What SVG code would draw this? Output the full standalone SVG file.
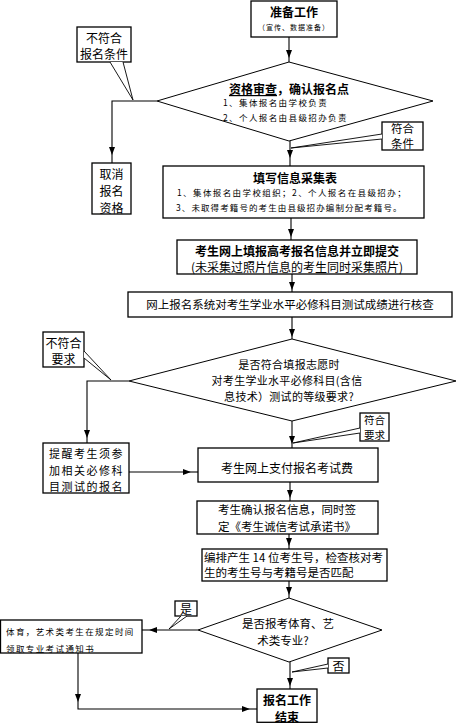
<svg xmlns="http://www.w3.org/2000/svg" width="475" height="723" viewBox="0 0 475 723">
<defs>
<marker id="ah" viewBox="0 0 8 6" markerWidth="8" markerHeight="6" refX="8" refY="3" orient="auto" markerUnits="userSpaceOnUse">
<path d="M0,0 L8,3 L0,6 z" fill="#000"/>
</marker>
</defs>
<style>
.box{fill:#fff;stroke:#000;stroke-width:1.3}
.dm{fill:#fff;stroke:#000;stroke-width:1}
.ln{fill:none;stroke:#000;stroke-width:1.1}
.wd{fill:#fff;stroke:#000;stroke-width:0.9}
text{font-family:"Noto Sans CJK SC","Noto Sans",sans-serif;fill:#000;dominant-baseline:central}
.c{text-anchor:middle}
.b{font-weight:bold;font-size:12px}
.m{font-size:12px}
.m2{font-size:11.5px}
.s{font-size:8.5px;letter-spacing:1.4px}
.r{font-size:11px;letter-spacing:1.5px}
</style>
<rect width="475" height="723" fill="#fff"/>

<g id="connectors">
<path class="ln" d="M289,37 V58" marker-end="url(#ah)"/><path class="ln" d="M289,58 V62"/>
<path class="ln" d="M290,141 V158" marker-end="url(#ah)"/><path class="ln" d="M290,158 V166"/>
<path class="ln" d="M291,218 V237" marker-end="url(#ah)"/><path class="ln" d="M291,237 V240"/>
<path class="ln" d="M292,274 V290" marker-end="url(#ah)"/><path class="ln" d="M292,290 V292"/>
<path class="ln" d="M292,317 V337" marker-end="url(#ah)"/><path class="ln" d="M292,337 V339"/>
<path class="ln" d="M292,421 V444" marker-end="url(#ah)"/><path class="ln" d="M292,444 V448"/>
<path class="ln" d="M290,482 V498" marker-end="url(#ah)"/><path class="ln" d="M290,498 V501"/>
<path class="ln" d="M289,534 V546" marker-end="url(#ah)"/><path class="ln" d="M289,546 V549"/>
<path class="ln" d="M289,581 V595" marker-end="url(#ah)"/><path class="ln" d="M289,595 V598"/>
<path class="ln" d="M290,662 V686" marker-end="url(#ah)"/><path class="ln" d="M290,686 V689"/>
<path class="ln" d="M157,101 H112 V155" marker-end="url(#ah)"/><path class="ln" d="M112,155 V163"/>
<path class="ln" d="M129,381 H87 V438" marker-end="url(#ah)"/><path class="ln" d="M87,438 V443"/>
<path class="ln" d="M129,472 H191" marker-end="url(#ah)"/><path class="ln" d="M191,472 H198"/>
<path class="ln" d="M198,630 H149" marker-end="url(#ah)"/><path class="ln" d="M149,630 H142"/>
<path class="ln" d="M78,653 V702" marker-end="url(#ah)"/>
<path class="ln" d="M78,702 V709 H250" marker-end="url(#ah)"/><path class="ln" d="M250,709 H257"/>
</g>

<g id="n-start">
<rect class="box" x="251" y="1" width="86" height="36"/>
<text class="c b" x="294" y="11">准备工作</text>
<text class="c" x="294" y="27" style="font-size:7px;letter-spacing:1px">（宣传、数据准备）</text>
</g>

<g id="d-qualify">
<polygon class="dm" points="289,62 433,101 289,141 157,101"/>
<text class="c b" x="289" y="88"><tspan text-decoration="underline">资格审查</tspan>，确认报名点</text>
<text class="s" x="223" y="102">1、集体报名由学校负责</text>
<text class="s" x="223" y="117">2、个人报名由县级招办负责</text>
</g>

<g id="c-notqualify">
<rect class="box" x="77" y="27" width="54" height="35"/>
<polyline class="wd" points="110,62 133,100 123,62"/>
<text class="c m" x="104" y="37">不符合</text>
<text class="c m" x="104" y="53">报名条件</text>
</g>

<g id="n-cancel">
<rect class="box" x="92" y="163" width="39" height="51"/>
<text class="c m" x="111.5" y="173">取消</text>
<text class="c m" x="111.5" y="190">报名</text>
<text class="c m" x="111.5" y="207">资格</text>
</g>

<g id="c-qualify">
<rect class="box" x="382" y="122" width="41" height="28"/>
<polyline class="wd" points="382,134 291,148 382,139"/>
<text class="c m2" x="402.5" y="128">符合</text>
<text class="c m2" x="402.5" y="143">条件</text>
</g>

<g id="n-form">
<rect class="box" x="163" y="166" width="261" height="52"/>
<text class="c b" x="295" y="177">填写信息采集表</text>
<text class="s" x="177" y="192">1、集体报名由学校组织；2、个人报名在县级招办；</text>
<text class="s" x="176" y="207" style="letter-spacing:1.1px">3、未取得考籍号的考生由县级招办编制分配考籍号。</text>
</g>

<g id="n-submit">
<rect class="box" x="177" y="240" width="240" height="34"/>
<text class="c b" x="297" y="250">考生网上填报高考报名信息并立即提交</text>
<text class="c m" x="297" y="266">(未采集过照片信息的考生同时采集照片)</text>
</g>

<g id="n-check">
<rect class="box" x="128" y="292" width="324" height="25"/>
<text class="c m2" x="290" y="304">网上报名系统对考生学业水平必修科目测试成绩进行核查</text>
</g>

<g id="d-level">
<polygon class="dm" points="292,339 456,381 292,421 129,381"/>
<text class="c" x="289" y="364" style="font-size:11px;letter-spacing:0.3px">是否符合填报志愿时</text>
<text class="c" x="287" y="380" style="font-size:11px;letter-spacing:0.3px">对考生学业水平必修科目(含信</text>
<text class="c" x="289" y="396" style="font-size:11px;letter-spacing:0.3px">息技术）测试的等级要求?</text>
</g>

<g id="c-notmeet">
<rect class="box" x="43" y="332" width="41" height="35"/>
<polyline class="wd" points="84,351 111,380 84,358"/>
<text class="c m" x="63.5" y="342">不符合</text>
<text class="c m" x="63.5" y="358">要求</text>
</g>

<g id="n-remind">
<rect class="box" x="43" y="443" width="86" height="50"/>
<text class="c r" x="86.5" y="453">提醒考生须参</text>
<text class="c r" x="86.5" y="469.5">加相关必修科</text>
<text class="c r" x="86.5" y="486">目测试的报名</text>
</g>

<g id="c-meet">
<rect class="box" x="360" y="413" width="29" height="28"/>
<polyline class="wd" points="360,428 293,443 360,433"/>
<text class="c" x="374.5" y="419.5" style="font-size:10.5px">符合</text>
<text class="c" x="374.5" y="434" style="font-size:10.5px">要求</text>
</g>

<g id="n-pay">
<rect class="box" x="198" y="448" width="180" height="34"/>
<text class="c m" x="287" y="467">考生网上支付报名考试费</text>
</g>

<g id="n-confirm">
<rect class="box" x="197" y="501" width="181" height="33"/>
<text class="m2" x="218" y="509">考生确认报名信息，同时签</text>
<text class="m2" x="218" y="526">定《考生诚信考试承诺书》</text>
</g>

<g id="n-number">
<rect class="box" x="202" y="549" width="185" height="32"/>
<text class="m2" x="204" y="557">编排产生 14 位考生号，检查核对考</text>
<text class="m2" x="204" y="572">生的考生号与考籍号是否匹配</text>
</g>

<g id="d-art">
<polygon class="dm" points="289,598 382,630 289,662 198,630"/>
<text class="c m2" x="288" y="623">是否报考体育、艺</text>
<text class="c m2" x="283" y="640">术类专业?</text>
</g>

<g id="n-art">
<rect class="box" x="0.5" y="620" width="141.5" height="33"/>
<text class="s" x="6" y="631">体育，艺术类考生在规定时间</text>
<text class="s" x="6" y="648">领取专业考试通知书</text>
</g>

<g id="c-yes">
<rect class="box" x="175" y="601" width="22" height="15"/>
<polyline class="wd" points="181,616 169,629 187,616"/>
<text class="c m" x="186" y="608.5">是</text>
</g>

<g id="c-no">
<rect class="box" x="328" y="658" width="21" height="15"/>
<polyline class="wd" points="328,664 292,672 328,668"/>
<text class="c m" x="338.5" y="665.5">否</text>
</g>

<g id="n-end">
<rect class="box" x="257" y="689" width="60" height="33.3"/>
<text class="c b" x="287" y="699">报名工作</text>
<text class="c b" x="287" y="716">结束</text>
</g>
</svg>
